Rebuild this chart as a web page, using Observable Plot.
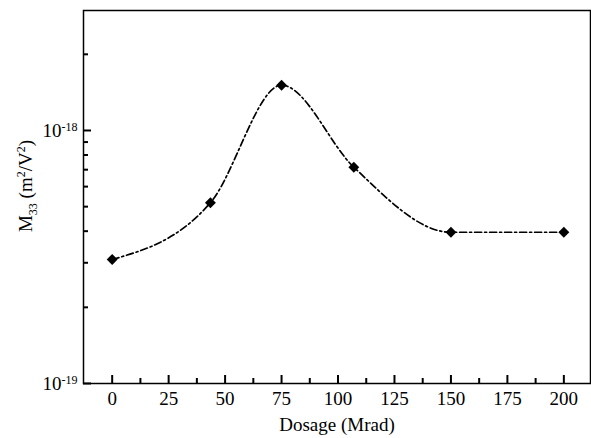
<!DOCTYPE html>
<html>
<head>
<meta charset="utf-8">
<script src="https://cdn.jsdelivr.net/npm/d3@7"></script>
<script src="https://cdn.jsdelivr.net/npm/@observablehq/plot@0.6"></script>
<style>
  html, body { margin: 0; padding: 0; background: #fff; }
  #chart svg { display: block; }
</style>
</head>
<body>
<div id="chart"></div>
<script>
const dosage = [0, 43.5, 75, 107, 150, 200];
const m33 = [3.09e-19, 5.18e-19, 1.51e-18, 7.16e-19, 3.96e-19, 3.96e-19];
const xMajor = [0, 25, 50, 75, 100, 125, 150, 175, 200];
const xMinor = [12.5, 37.5, 62.5, 87.5, 112.5, 137.5, 162.5, 187.5];
const yMajor = [1e-19, 1e-18];
const yMinor = [2e-19, 3e-19, 4e-19, 5e-19, 6e-19, 7e-19, 8e-19, 9e-19, 2e-18];
const xTitle = "Dosage (Mrad)";
const yTitle = "M33 (m2/V2)";

const data = dosage.map((d, i) => ({dosage: d, m33: m33[i]}));
const font = "'Liberation Serif', 'Times New Roman', serif";

const W = 591, H = 438, mL = 83, mR = 1, mT = 10, mB = 55;
const frameW = W - mL - mR, frameH = H - mT - mB;

// inward ticks as short rules hugging the bottom / left frame edges
const inTicksX = (values, len) => Plot.ruleX(values, {x: d => d, insetTop: frameH - len, stroke: "#000", strokeWidth: 2});
const inTicksY = (values, len) => Plot.ruleY(values, {y: d => d, insetRight: frameW - len, stroke: "#000", strokeWidth: 2});

const chart = Plot.plot({
  width: W,
  height: H,
  marginLeft: mL,
  marginRight: mR,
  marginTop: mT,
  marginBottom: mB,
  style: {fontFamily: font, fontSize: "18px", color: "#000", background: "#fff"},
  x: {domain: [-12.7, 211.8]},
  y: {type: "log", domain: [1e-19, 2.98e-18]},
  marks: [
    // tick labels
    Plot.axisX(xMajor, {tickSize: 0, tickPadding: 8, fontSize: 19, fontFamily: font, label: null, tickFormat: d => String(d)}),
    Plot.axisY(yMajor, {tickSize: 0, tickPadding: 6, fontSize: 19, fontFamily: font, label: null, tickFormat: d => "10" + Math.round(Math.log10(d))}),
    // inward ticks
    inTicksX(xMajor, 8),
    inTicksX(xMinor, 5),
    inTicksY(yMajor, 8),
    inTicksY(yMinor, 5),
    Plot.frame({stroke: "#000", strokeWidth: 1.5}),
    Plot.line(data, {x: "dosage", y: "m33", curve: "monotone-x", stroke: "#000", strokeWidth: 1.7, strokeDasharray: "7,3,2,3"}),
    Plot.dot(data, {x: "dosage", y: "m33", symbol: "diamond2", r: 4.9, fill: "#000", stroke: "none"}),
    Plot.text([xTitle], {text: d => d, frameAnchor: "bottom", dy: 47, fontSize: 19, fontFamily: font}),
    Plot.text([yTitle], {text: d => d, frameAnchor: "left", textAnchor: "middle", rotate: -90, dx: -58, dy: -11, fontSize: 19, fontFamily: font})
  ]
});
document.getElementById("chart").appendChild(chart);

const NS = "http://www.w3.org/2000/svg";
// superscript exponents on y tick labels
chart.querySelectorAll('g[aria-label="y-axis tick label"] text').forEach(t => {
  const s = t.textContent;
  if (!s || s.slice(0, 2) !== "10") return;
  const exp = s.slice(2);
  t.textContent = "";
  const base = document.createElementNS(NS, "tspan");
  base.textContent = "10";
  const sup = document.createElementNS(NS, "tspan");
  sup.textContent = exp;
  sup.setAttribute("dy", "-0.45em");
  sup.setAttribute("font-size", "12");
  t.appendChild(base);
  t.appendChild(sup);
});
// sub/superscripts in the y title
chart.querySelectorAll("text").forEach(t => {
  if (t.textContent !== yTitle) return;
  t.textContent = "";
  const mk = (txt, dy, fs) => {
    const s = document.createElementNS(NS, "tspan");
    s.textContent = txt;
    if (dy) s.setAttribute("dy", dy);
    if (fs) s.setAttribute("font-size", fs);
    t.appendChild(s);
  };
  mk("M");
  mk("33", "5", "12");
  mk(" (m", "-5");
  mk("2", "-7", "12");
  mk("/V", "7");
  mk("2", "-7", "12");
  mk(")", "7");
});
</script>
</body>
</html>
